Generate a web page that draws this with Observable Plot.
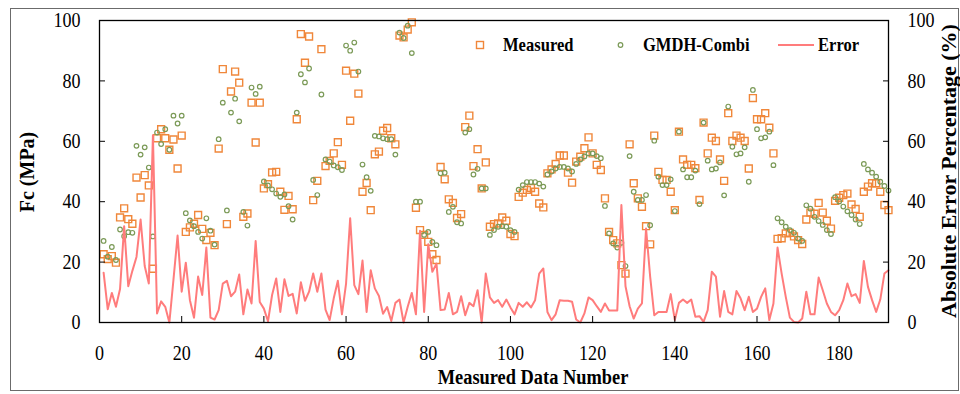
<!DOCTYPE html>
<html>
<head>
<meta charset="utf-8">
<script src="https://cdn.jsdelivr.net/npm/d3@7"></script>
<script src="https://cdn.jsdelivr.net/npm/@observablehq/plot@0.6"></script>
<style>
  body { margin: 0; background: #fff; }
  #chart { width: 960px; height: 394px; }
</style>
</head>
<body>
<div id="chart"></div>
<script>
// Measured compressive strength (MPa) for samples 1..192
const measured = [
  22.6, 21, 22, 19.8, 34.8, 37.8, 34.2, 32.7, 48, 41.4,
  48.8, 45.4, 17.8, 61, 64, 61, 57.2, 60.6, 51, 61.9,
  30, 31.5, 32.7, 35.6, 31, 27.3, 29.7, 25.6, 57.6, 83.9,
  32.6, 76.5, 83.1, 79.4, 35, 36.1, 72.8, 59.6, 72.8, 44.4,
  45.8, 49.7, 49.9, 43.3, 37.3, 41.9, 37.5, 67.3, 95.5, 86,
  94.7, 40.5, 46.9, 90.5, 51.8, 53.5, 56, 59.7, 52.2, 83.4,
  66.8, 82.4, 75.8, 43.3, 46.2, 37.2, 55.7, 56.6, 63.5, 64.4,
  61, 59, 95, 94.4, 97, 99.4, 38, 30.6, 29, 26.7,
  22.6, 20.7, 51.5, 47.4, 40.8, 39.6, 34.6, 35.9, 64.7, 68.5,
  51.8, 57.4, 44.4, 53, 31.7, 32.6, 32.8, 34.8, 33.7, 29.3,
  28.6, 41.6, 43, 43.9, 44.5, 43.3, 39.4, 38.1, 49.4, 50.7,
  52.5, 55.3, 55.3, 49.6, 46.3, 53.3, 54.9, 57.7, 61.3, 56,
  52.2, 50.5, 41.1, 30, 27.3, 26.2, 19, 16.2, 59, 46.1,
  41.1, 38.3, 31.9, 25.9, 61.9, 49.9, 47.2, 47.2, 43.3, 37.2,
  63.2, 54, 52.2, 52.2, 51.1, 40.6, 66.2, 56, 61.2, 60.1,
  54, 46.9, 69.3, 60.1, 61.9, 61.2, 60.1, 51, 74.3, 67.3,
  67.3, 69.3, 64.5, 56, 27.7, 27.9, 29.5, 29.7, 28.5, 27.3,
  26, 34.1, 36.4, 36, 39.6, 36.4, 33.7, 31.1, 40.3, 41.3,
  42.2, 42.7, 39.1, 37.6, 35, 43.3, 45, 46.1, 46.1, 43.3,
  38.9, 37.2
];

// GMDH-Combi model output (MPa)
const gmdhCombi = [
  27, 21.8, 25, 20.7, 30.8, 28.6, 29.9, 29.7, 58.5, 55.6,
  58, 51.3, 28.5, 62.9, 59.1, 64, 57.2, 68.5, 65.9, 68.5,
  36.2, 33.8, 31.9, 30, 27.8, 34.5, 30.4, 25.8, 60.7, 72.8,
  37.1, 69.5, 74.1, 66.6, 36.6, 32.1, 77.8, 75.7, 78.1, 46.7,
  45.4, 44.1, 42.7, 41.6, 42.4, 38.5, 34.1, 69.5, 82.2, 79.5,
  84.1, 47.2, 42.2, 75.5, 54, 53.3, 52, 51.4, 50.5, 91.7,
  90, 92.7, 83.1, 52.3, 48.1, 43.6, 61.8, 61.6, 61, 60.7,
  60.7, 55.6, 96, 94.2, 98.3, 89.2, 40, 40, 29, 30,
  26.7, 25.6, 49.4, 49.6, 36.6, 38.3, 33.2, 32.8, 62.9, 64,
  49, 50.9, 44.4, 44.4, 29, 30.6, 31.7, 31.9, 31.7, 30.6,
  30, 44, 45.5, 46.5, 46.5, 46.5, 46, 45, 49, 50,
  51, 51.5, 51.5, 51, 50, 52.5, 54, 55, 56, 56,
  55.1, 54.4, 38.6, 29.5, 26.2, 24.8, 26.4, 18.7, 55.1, 43.3,
  40.6, 40.6, 42.2, 32.2, 60.2, 48.3, 45.5, 45.5, 47.4, 36.9,
  63.2, 50.7, 48.1, 48.1, 50.3, 39.2, 66.2, 53.6, 50.7, 51,
  53, 42.1, 71.5, 58.2, 55.7, 56, 58, 46.6, 77, 64,
  61, 61.3, 63.2, 52.1, 34.5, 33.2, 31.7, 30.6, 29.7, 27.8,
  27, 38.8, 37.7, 35, 33.6, 32.3, 30.6, 29.3, 41.5, 40.1,
  38.4, 36.8, 35.6, 34.1, 32.6, 52.5, 50.7, 49.6, 48.3, 46.6,
  45.2, 43.7
];

// Absolute error percentage (%)
const errorPct = [
  16.5, 4.4, 9.8, 5.2, 11.1, 31.9, 12, 17.1, 21.7, 34.1,
  18.7, 12.9, 62, 3, 7, 5.2, 0, 14.2, 28.8, 10.2,
  19.8, 7.4, 1.6, 15.2, 9.1, 24.8, 1.6, 1, 4.1, 12.9,
  13.8, 8.7, 10.2, 15.9, 2.7, 10.9, 6.3, 27, 6.8, 4.6,
  0.4, 9.1, 14.6, 3.5, 14.3, 8.8, 9.5, 3, 13.3, 7.2,
  10.2, 16.2, 10.2, 16.2, 4.3, 0.8, 8, 13.8, 2.7, 12.9,
  34.5, 12.4, 9.4, 20.5, 3.5, 17.3, 11.3, 8.8, 2.9, 5.1,
  0.5, 6.5, 7.6, 0, 5.2, 9.8, 2.7, 30.4, 3.5, 25.9,
  16.8, 19.5, 4.1, 4.3, 9.8, 2.7, 3.5, 8.7, 2.4, 6.5,
  5.4, 10.7, 0, 16.2, 8.3, 6.5, 7.4, 5.2, 7.6, 5,
  2.7, 6.5, 5.2, 6.7, 5, 7.4, 16.2, 17.9, 3.5, 0.8,
  2.7, 7.4, 7.2, 7.2, 6.9, 1, 0, 3, 8.3, 7.4,
  5.4, 3.5, 6.3, 4, 4, 4, 38.9, 12, 5.4, 1.3,
  4.6, 6.3, 31.1, 15.2, 2.4, 3.5, 3.5, 3.5, 9.4, 0.8,
  6.5, 7.6, 6.5, 7.6, 1.9, 2.1, 0.2, 4.1, 16.8, 15.2,
  1.9, 10.4, 3.5, 2.7, 10.4, 8, 4.1, 8.5, 3.5, 4.6,
  8.5, 11.3, 0.8, 6.3, 24.8, 16.2, 8.5, 1.6, 0.2, 0,
  1.3, 10.2, 2.7, 2.7, 14.9, 10.7, 6.3, 3.5, 2.4, 4.1,
  7.4, 12.9, 8.7, 9.4, 6.5, 20.4, 11.8, 7.4, 3.5, 7.6,
  16.2, 17.3
];

const xTicks = [0, 20, 40, 60, 80, 100, 120, 140, 160, 180];
const yTicks = [0, 20, 40, 60, 80, 100];
const seriesNames = ["Measured", "GMDH-Combi", "Error"];
const xTitle = "Measured Data Number";
const yTitleLeft = "Fc (MPa)";
const yTitleRight = "Absolute Error Percentage (%)";

const colors = { measured: "#F0873A", model: "#7B9A57", error: "#FF7C7C" };
const serif = "'Liberation Serif', 'Times New Roman', serif";

const rows = measured.map((m, k) => ({
  n: k + 1,
  measured: m,
  model: gmdhCombi[k],
  error: errorPct[k]
}));

const plot = Plot.plot({
  width: 960,
  height: 394,
  marginLeft: 99,
  marginRight: 72,
  marginTop: 20,
  marginBottom: 72,
  style: { fontFamily: serif, fontSize: "21px", color: "#000", background: "#fff", overflow: "visible" },
  x: { domain: [0, 192] },
  y: { domain: [0, 100] },
  marks: [
    Plot.dot(rows, { x: "n", y: "measured", symbol: "square", r: 3.9, stroke: colors.measured, strokeWidth: 1.4, fill: "none" }),
    Plot.dot(rows, { x: "n", y: "model", symbol: "circle", r: 2.3, stroke: colors.model, strokeWidth: 1.2, fill: "none" }),
    Plot.line(rows, { x: "n", y: "error", stroke: colors.error, strokeWidth: 2 }),
    Plot.frame({ stroke: "#000", strokeWidth: 1.3 }),
    Plot.axisX({ ticks: xTicks, tickSize: -6, tickPadding: 29, label: null, stroke: "#000" }),
    Plot.axisY({ ticks: yTicks, anchor: "left", tickSize: -6, tickPadding: 25, label: null }),
    Plot.axisY({ ticks: yTicks, anchor: "right", tickSize: -6, tickPadding: 25, label: null })
  ]
});

document.getElementById("chart").appendChild(plot);

const svg = d3.select(plot);

// Narrow the tick labels slightly to match the condensed serif lettering
svg.selectAll("g[aria-label$='tick label'] text").each(function () {
  const t = this.getAttribute("transform") || "";
  this.setAttribute("transform", t + " scale(0.86,1)");
});

const overlay = svg.append("g").attr("font-family", serif).attr("fill", "#000");

// Chart-area border
overlay.append("rect")
  .attr("x", 10.5).attr("y", 8.5).attr("width", 948).attr("height", 382)
  .attr("fill", "none").attr("stroke", "#6b6b6b").attr("stroke-width", 1);

// Axis titles
overlay.append("text")
  .attr("transform", "translate(533,384) scale(0.92,1)")
  .attr("text-anchor", "middle").attr("font-weight", "bold").attr("font-size", 20)
  .text(xTitle);

overlay.append("text")
  .attr("transform", "translate(34,172) rotate(-90)")
  .attr("text-anchor", "middle").attr("font-weight", "bold").attr("font-size", 20)
  .text(yTitleLeft);

overlay.append("text")
  .attr("transform", "translate(956,171) rotate(-90)")
  .attr("text-anchor", "middle").attr("font-weight", "bold").attr("font-size", 22)
  .text(yTitleRight);

// Legend
const legendY = 45;
const legend = overlay.append("g").attr("font-weight", "bold").attr("font-size", 18).attr("text-anchor", "start");
legend.append("rect")
  .attr("x", 476.5).attr("y", legendY - 3.5).attr("width", 7).attr("height", 7)
  .attr("fill", "none").attr("stroke", colors.measured).attr("stroke-width", 1.4);
legend.append("text").attr("transform", `translate(503,${legendY}) scale(0.92,1)`).attr("dy", "0.35em").text(seriesNames[0]);
legend.append("circle")
  .attr("cx", 620.5).attr("cy", legendY).attr("r", 2.3)
  .attr("fill", "none").attr("stroke", colors.model).attr("stroke-width", 1.2);
legend.append("text").attr("transform", `translate(643,${legendY}) scale(0.92,1)`).attr("dy", "0.35em").text(seriesNames[1]);
legend.append("line")
  .attr("x1", 778).attr("x2", 814).attr("y1", legendY).attr("y2", legendY)
  .attr("stroke", colors.error).attr("stroke-width", 2);
legend.append("text").attr("transform", `translate(818,${legendY}) scale(0.92,1)`).attr("dy", "0.35em").text(seriesNames[2]);
</script>
</body>
</html>
